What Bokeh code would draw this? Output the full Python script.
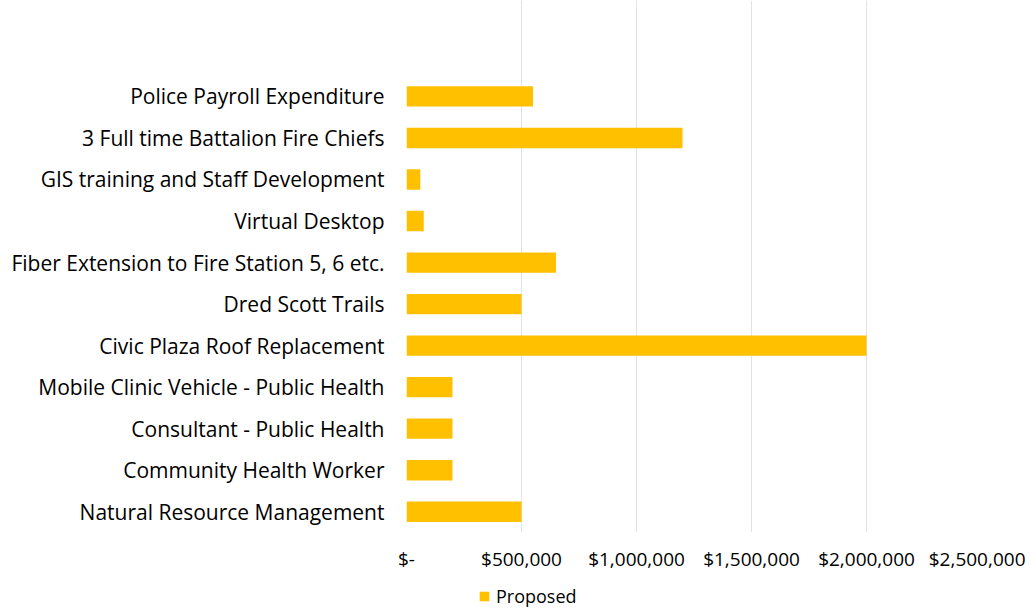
from bokeh.plotting import figure
from bokeh.layouts import column
from bokeh.models import ColumnDataSource, FixedTicker, Legend, LegendItem, Range1d
from bokeh.embed import file_html
from bokeh.resources import INLINE

# ---- data (top to bottom as shown) ----
categories = [
    "Police Payroll Expenditure",
    "3 Full time Battalion Fire Chiefs",
    "GIS training and Staff Development",
    "Virtual Desktop",
    "Fiber Extension to Fire Station 5, 6 etc.",
    "Dred Scott Trails",
    "Civic Plaza Roof Replacement",
    "Mobile Clinic Vehicle - Public Health",
    "Consultant - Public Health",
    "Community Health Worker",
    "Natural Resource Management",
]
proposed = [550000, 1200000, 60000, 75000, 650000, 500000, 2000000,
            200000, 200000, 200000, 500000]
x_ticks = [0, 500000, 1000000, 1500000, 2000000, 2500000]
x_tick_labels = ["$-", "$500,000", "$1,000,000", "$1,500,000", "$2,000,000", "$2,500,000"]
series_name = "Proposed"

FONT = "Open Sans"
BAR = "#FFC000"
n = len(categories)
ypos = [n - 1 - i for i in range(n)]

src = ColumnDataSource(dict(y=ypos, v=proposed, cat=categories))

p = figure(frame_width=575, frame_height=532, output_backend="svg", toolbar_location=None,
           x_range=Range1d(0, 2500000), y_range=Range1d(-0.5, 12.31),
           min_border_left=406, min_border_right=44, min_border_top=0,
           min_border_bottom=0)
p.outline_line_color = None
p.background_fill_color = "white"
p.border_fill_color = "white"

r = p.hbar(y="y", right="v", left=0, height=0.49, source=src,
           fill_color=BAR, line_color=None)

# x axis
p.xaxis.ticker = FixedTicker(ticks=x_ticks)
p.xaxis.major_label_overrides = {t: l for t, l in zip(x_ticks, x_tick_labels)}
p.xaxis.axis_line_color = None
p.xaxis.major_tick_line_color = None
p.xaxis.minor_tick_line_color = None
p.xaxis.major_tick_out = 0
p.xaxis.major_tick_in = 0
p.xaxis.major_label_standoff = 13
p.xaxis.major_label_text_font = FONT
p.xaxis.major_label_text_font_size = "19px"
p.xaxis.major_label_text_color = "#000000"

# y axis
p.yaxis.ticker = FixedTicker(ticks=ypos)
p.yaxis.major_label_overrides = {y: c for y, c in zip(ypos, categories)}
p.yaxis.axis_line_color = None
p.yaxis.major_tick_line_color = None
p.yaxis.minor_tick_line_color = None
p.yaxis.major_tick_out = 0
p.yaxis.major_tick_in = 0
p.yaxis.major_label_standoff = 22
p.yaxis.major_label_text_font = FONT
p.yaxis.major_label_text_font_size = "21px"
p.yaxis.major_label_text_color = "#000000"

p.xgrid.grid_line_color = "#E1E1E8"
p.xgrid.grid_line_width = 1
p.ygrid.grid_line_color = None

# legend strip below the chart
pl = figure(width=1025, height=39, output_backend="svg", toolbar_location=None,
            x_axis_type=None, y_axis_type=None,
            x_range=Range1d(0, 1), y_range=Range1d(0, 1),
            min_border_left=0, min_border_right=0, min_border_top=0, min_border_bottom=0)
pl.outline_line_color = None
pl.grid.grid_line_color = None
lr = pl.hbar(y=[0.5], right=[0], left=[0], height=0.5, fill_color=BAR, line_color=None)
legend = Legend(items=[LegendItem(label=series_name, renderers=[lr])],
                location=(72, 5), orientation="horizontal",
                glyph_width=12, glyph_height=12,
                label_text_font=FONT,
                label_text_font_size="18px", label_text_color="#000000",
                padding=0, margin=0, spacing=0, label_standoff=6,
                border_line_color=None, background_fill_alpha=0)
pl.add_layout(legend, "center")

layout = column(p, pl, spacing=0)
open("out.html", "w").write(file_html(layout, INLINE))
